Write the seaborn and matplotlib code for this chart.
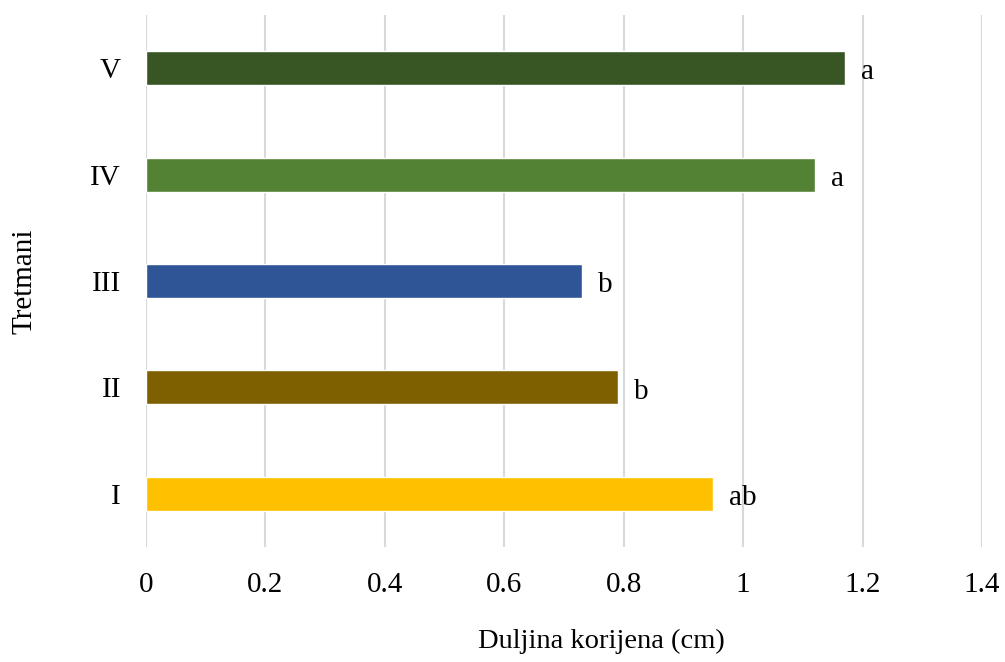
import matplotlib
matplotlib.use("Agg")
import matplotlib.pyplot as plt
import seaborn as sns
import pandas as pd

categories = ["I", "II", "III", "IV", "V"]
values = [0.95, 0.79, 0.73, 1.12, 1.17]
letters = ["ab", "b", "b", "a", "a"]
colors = ["#FFC000", "#7F6000", "#2F5597", "#548235", "#375623"]
xticks = [0, 0.2, 0.4, 0.6, 0.8, 1.0, 1.2, 1.4]
xtick_labels = ["0", "0.2", "0.4", "0.6", "0.8", "1", "1.2", "1.4"]

sns.set_style("white")
plt.rcParams["font.family"] = ["Liberation Serif", "DejaVu Serif"]
plt.rcParams["text.color"] = "black"

df = pd.DataFrame({"Tretman": categories, "Vrijednost": values})
order = categories[::-1]
palette = dict(zip(categories, colors))

fig = plt.figure(figsize=(10.05, 6.62), dpi=100)
ax = fig.add_axes([146 / 1005, 1 - 547 / 662, (982 - 146) / 1005, (547 - 15) / 662])

sns.barplot(data=df, y="Tretman", x="Vrijednost", order=order, hue="Tretman",
            palette=palette, width=0.32, orient="h", ax=ax, legend=False,
            saturation=1, zorder=3)

ax.set_xlim(0, 1.4)
ax.set_ylim(4.5, -0.5)
ax.set_xticks(xticks)
ax.set_xticklabels(xtick_labels)
ax.grid(axis="x", color="#D9D9D9", linewidth=1.5, zorder=0)
ax.grid(axis="y", visible=False)
for s in ax.spines.values():
    s.set_visible(False)
ax.tick_params(axis="both", length=0, labelsize=21, colors="black")
ax.tick_params(axis="x", pad=18)
ax.tick_params(axis="y", pad=18)
ax.set_xlabel("")
ax.set_ylabel("Tretmani", fontsize=21, labelpad=38, color="black")

for i, cat in enumerate(order):
    idx = categories.index(cat)
    ax.annotate(letters[idx], xy=(values[idx], i), xytext=(11.5, -3),
                textcoords="offset points", ha="left", va="center",
                fontsize=21, color="black")

fig.text(601 / 1005, 1 - 641 / 662, "Duljina korijena (cm)", ha="center",
         va="center", fontsize=20.5, color="black")

fig.savefig("out.png", dpi=100)
